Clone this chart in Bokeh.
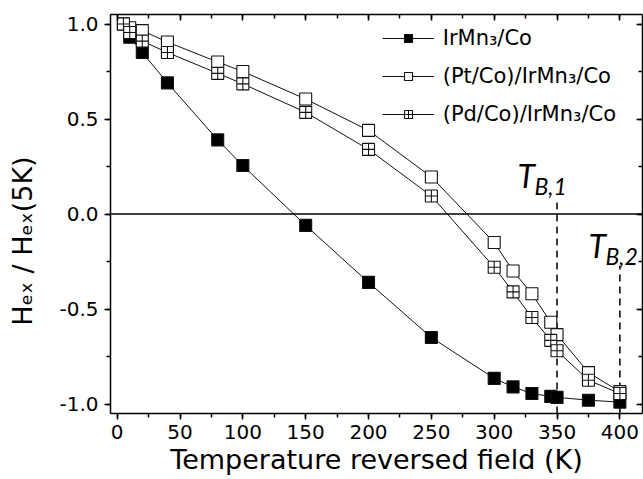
import math

from bokeh.embed import file_html
from bokeh.models import (Label, Legend, LegendItem, LinearAxis, PrintfTickFormatter,
                          Range1d, SingleIntervalTicker, Span)
from bokeh.plotting import figure
from bokeh.resources import INLINE

# Exchange-bias field normalised to its 5 K value, vs. the temperature of field reversal
temperature = [5, 10, 20, 40, 80, 100, 150, 200, 250, 300, 315, 330, 345, 350, 375, 400]
irmn_co = [1.0, 0.93, 0.85, 0.69, 0.39, 0.255, -0.06, -0.36, -0.65, -0.865, -0.91,
           -0.945, -0.96, -0.965, -0.98, -0.99]
pt_co_irmn_co = [1.0, 0.98, 0.965, 0.905, 0.80, 0.75, 0.605, 0.44, 0.195, -0.15, -0.30,
                 -0.42, -0.57, -0.635, -0.835, -0.935]
pd_co_irmn_co = [1.0, 0.955, 0.91, 0.85, 0.74, 0.685, 0.535, 0.34, 0.095, -0.28, -0.41,
                 -0.545, -0.665, -0.72, -0.875, -0.945]

series_names = ["IrMn₃/Co", "(Pt/Co)/IrMn₃/Co", "(Pd/Co)/IrMn₃/Co"]

x_title = "Temperature reversed field (K)"
y_title = "Hₑₓ / Hₑₓ(5K)"

# blocking temperatures and the height up to which their dashed markers reach
blocking_temps = [350, 400]
blocking_tops = [0.087, -0.272]

X_RANGE = (-5.3, 418.0)
Y_RANGE = (-1.05, 1.05)

FONT = "DejaVu Sans"
INK = "#111111"

p = figure(width=643, height=479, x_range=Range1d(*X_RANGE), y_range=Range1d(*Y_RANGE),
           output_backend="svg", toolbar_location=None,
           min_border_left=110, min_border_right=1, min_border_top=14, min_border_bottom=66)
p.xgrid.visible = False
p.ygrid.visible = False
p.outline_line_color = None
p.background_fill_color = "white"
p.border_fill_color = "white"

x_ticker = SingleIntervalTicker(interval=50, num_minor_ticks=2)
y_ticker = SingleIntervalTicker(interval=0.5, num_minor_ticks=2)


def style_outer(ax):
    ax.axis_line_width = 1.5
    ax.axis_line_color = "black"
    ax.major_tick_line_width = 1.5
    ax.minor_tick_line_width = 1.5
    ax.major_tick_in = 0
    ax.major_tick_out = 6
    ax.minor_tick_in = 0
    ax.minor_tick_out = 4
    ax.major_label_text_font = FONT
    ax.major_label_text_font_size = "20px"
    ax.major_label_text_color = "black"
    ax.axis_label_text_font = FONT
    ax.axis_label_text_font_size = "27px"
    ax.axis_label_text_font_style = "normal"
    ax.axis_label_text_color = "black"


def mirror_axis(ticker):
    return LinearAxis(ticker=ticker, axis_line_width=1.5, axis_line_color="black",
                      major_tick_line_width=1.5, minor_tick_line_width=1.5,
                      major_tick_in=6, major_tick_out=0, minor_tick_in=4, minor_tick_out=0,
                      major_label_text_font_size="0px", major_label_standoff=0,
                      axis_label=None)


xa = p.xaxis[0]
xa.ticker = x_ticker
xa.formatter = PrintfTickFormatter(format="%d")
style_outer(xa)
xa.major_label_standoff = 5
xa.axis_label = x_title
xa.axis_label_standoff = 2

ya = p.yaxis[0]
ya.ticker = y_ticker
ya.formatter = PrintfTickFormatter(format="%.1f")
style_outer(ya)
ya.major_label_standoff = 6
# em spaces after the title push its visible part a little below the frame centre
ya.axis_label = y_title + "\u2003\u2002\u2002"
ya.axis_label_standoff = 18

p.add_layout(mirror_axis(x_ticker), "above")
p.add_layout(mirror_axis(y_ticker), "right")

# zero reference line
p.add_layout(Span(location=0, dimension="width", line_color="black", line_width=1.5))

# blocking-temperature markers
p.segment(x0=blocking_temps, y0=[Y_RANGE[0]] * len(blocking_temps),
          x1=blocking_temps, y1=blocking_tops,
          line_color="black", line_width=1.5, line_dash="7 5")

# data series
items = []
styles = [
    (irmn_co, "square", "black"),
    (pt_co_irmn_co, "square", "white"),
    (pd_co_irmn_co, "square_cross", "white"),
]
for name, (vals, marker, fill) in zip(series_names, styles):
    ln = p.line(temperature, vals, line_color=INK, line_width=1)
    sc = p.scatter(temperature, vals, marker=marker, size=12, fill_color=fill,
                   line_color=INK, line_width=1.1)
    items.append(LegendItem(label=name, renderers=[ln, sc]))

legend = Legend(items=items, location=(271.7, 287), border_line_color=None,
                background_fill_alpha=0, label_text_font=FONT, label_text_font_size="21px",
                label_text_color="black", glyph_width=52, glyph_height=20,
                label_height=20, label_standoff=9, spacing=14, padding=0, margin=0)
p.add_layout(legend)

# blocking-temperature labels T_B,1 and T_B,2
tb_pieces = [
    ("T", 407, 238, "32px"),
    ("B,1", 424, 228, "23px"),
    ("T", 478, 168, "32px"),
    ("B,2", 495, 158, "23px"),
]
for txt, sx, sy, size in tb_pieces:
    p.add_layout(Label(x=sx, y=sy, x_units="screen", y_units="screen", text=txt,
                       text_font="Lato", text_font_style="italic", text_font_size=size,
                       text_align="left", text_baseline="alphabetic", text_color="black"))

open("out.html", "w").write(file_html(p, INLINE))
